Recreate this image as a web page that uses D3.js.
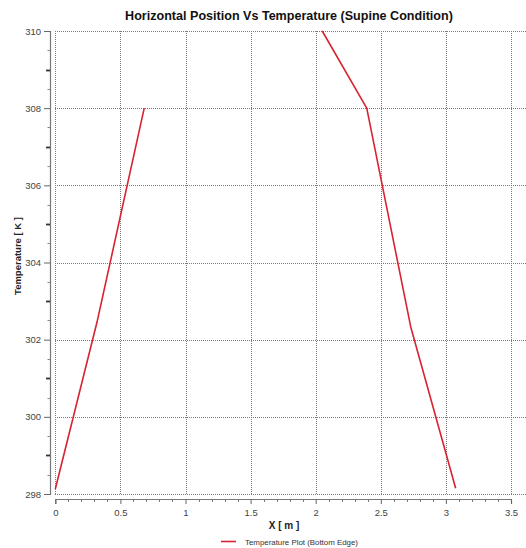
<!DOCTYPE html>
<html>
<head>
<meta charset="utf-8">
<script src="https://cdn.jsdelivr.net/npm/d3@7/dist/d3.min.js"></script>
<style>
  html, body { margin: 0; padding: 0; background: #fff; }
  svg { display: block; }
</style>
</head>
<body>
<svg id="chart" width="526" height="548"></svg>
<script>
// ---- data ----
const title = "Horizontal Position Vs Temperature (Supine Condition)";
const xLabel = "X [ m ]";
const yLabel = "Temperature [ K ]";
const seriesName = "Temperature Plot (Bottom Edge)";
// x positions (m) and temperatures (K); null marks the gap between the two edges
const xValues = [0.00, 0.32, 0.683, null, 2.05, 2.392, 2.73, 3.075];
const tempValues = [298.13, 302.45, 308.0, null, 310.0, 308.0, 302.33, 298.15];
const xTicks = [0, 0.5, 1, 1.5, 2, 2.5, 3, 3.5];
const xTickLabels = ["0", "0.5", "1", "1.5", "2", "2.5", "3", "3.5"];
const yTicks = [298, 300, 302, 304, 306, 308, 310];
const yTickLabels = ["298", "300", "302", "304", "306", "308", "310"];

// ---- layout ----
const svg = d3.select("#chart");
const W = 526, H = 548;
const x = d3.scaleLinear().domain([0, 3.5]).range([55.3, 511]);
const y = d3.scaleLinear().domain([298, 310]).range([494, 31]);
const axisX = 50;     // y-axis line position
const axisY = 499;    // x-axis line position
const font = "'Liberation Sans', Arial, sans-serif";

// grid
const grid = svg.append("g").attr("stroke", "#7a7a7a").attr("stroke-width", 1)
  .attr("stroke-dasharray", "1,1").attr("shape-rendering", "crispEdges");
grid.selectAll("line.h").data(yTicks).join("line").attr("class", "h")
  .attr("x1", x(0)).attr("x2", W).attr("y1", d => Math.round(y(d)) + 0.5).attr("y2", d => Math.round(y(d)) + 0.5);
grid.selectAll("line.v").data(xTicks).join("line").attr("class", "v")
  .attr("y1", y(310)).attr("y2", y(298)).attr("x1", d => Math.round(x(d)) + 0.5).attr("x2", d => Math.round(x(d)) + 0.5);

// y axis
const yAxisG = svg.append("g").attr("transform", `translate(${axisX},0)`);
const yAxis = d3.axisLeft(y).tickValues(yTicks).tickFormat((d, i) => yTickLabels[i]).tickSize(6).tickPadding(3);
yAxisG.call(yAxis);
yAxisG.select(".domain").attr("stroke", "#777").attr("stroke-width", 1.2);
yAxisG.selectAll(".tick line").attr("stroke", "#666");
yAxisG.selectAll(".tick text").attr("font-family", font).attr("font-size", 9.5).attr("fill", "#444");
const yMinor = d3.range(298, 310.01, 0.5).filter(v => Math.abs(v % 2) > 1e-6);
yAxisG.selectAll("line.minor").data(yMinor).join("line").attr("class", "minor")
  .attr("x1", d => (Math.abs(d % 1) < 1e-6 ? -4 : -2.5)).attr("x2", 0)
  .attr("y1", d => Math.round(y(d)) + 0.5).attr("y2", d => Math.round(y(d)) + 0.5)
  .attr("stroke", d => (Math.abs(d % 1) < 1e-6 ? "#333" : "#888"))
  .attr("stroke-width", d => (Math.abs(d % 1) < 1e-6 ? 1.8 : 1));

// x axis
const xAxisG = svg.append("g").attr("transform", `translate(0,${axisY})`);
const xAxis = d3.axisBottom(x).tickValues(xTicks).tickFormat((d, i) => xTickLabels[i]).tickSize(5).tickPadding(5);
xAxisG.call(xAxis);
xAxisG.select(".domain").attr("stroke", "#777").attr("stroke-width", 1.2);
xAxisG.selectAll(".tick line").attr("stroke", "#666");
xAxisG.selectAll(".tick text").attr("font-family", font).attr("font-size", 9.5).attr("fill", "#444");
const xMinor = d3.range(0.1, 3.45, 0.1).filter(v => Math.abs((v * 2) - Math.round(v * 2)) > 1e-6);
xAxisG.selectAll("line.minor").data(xMinor).join("line").attr("class", "minor")
  .attr("x1", d => Math.round(x(d)) + 0.5).attr("x2", d => Math.round(x(d)) + 0.5)
  .attr("y1", 0).attr("y2", 3).attr("stroke", "#777").attr("stroke-width", 1);

// series line
const pts = xValues.map((v, i) => ({ x: v, t: tempValues[i] }));
const line = d3.line().defined(d => d.x !== null && d.t !== null).x(d => x(d.x)).y(d => y(d.t));
svg.append("path").datum(pts).attr("d", line)
  .attr("fill", "none").attr("stroke", "#d92330").attr("stroke-width", 1.6)
  .attr("stroke-linejoin", "round");

// title
const titleT = svg.append("text").attr("x", 289).attr("y", 20).attr("text-anchor", "middle")
  .attr("font-family", font).attr("font-weight", "bold").attr("font-size", 12).attr("fill", "#111")
  .text(title);
const tw = titleT.node().getComputedTextLength();
titleT.attr("font-size", 12 * 328 / tw);

// axis titles
svg.append("text").attr("x", 284).attr("y", 529).attr("text-anchor", "middle")
  .attr("font-family", font).attr("font-weight", "bold").attr("font-size", 10).attr("fill", "#222")
  .text(xLabel);
svg.append("text").attr("transform", "translate(21,256) rotate(-90)").attr("text-anchor", "middle")
  .attr("font-family", font).attr("font-weight", "bold").attr("font-size", 9.5).attr("fill", "#222")
  .text(yLabel);

// legend
const lg = svg.append("g");
lg.append("line").attr("x1", 221).attr("x2", 236).attr("y1", 541.5).attr("y2", 541.5)
  .attr("stroke", "#d92330").attr("stroke-width", 1.6);
const legT = lg.append("text").attr("x", 245).attr("y", 544.5)
  .attr("font-family", font).attr("font-size", 8).attr("fill", "#333").text(seriesName);
const lw = legT.node().getComputedTextLength();
legT.attr("font-size", 8 * 113 / lw);
</script>
</body>
</html>
